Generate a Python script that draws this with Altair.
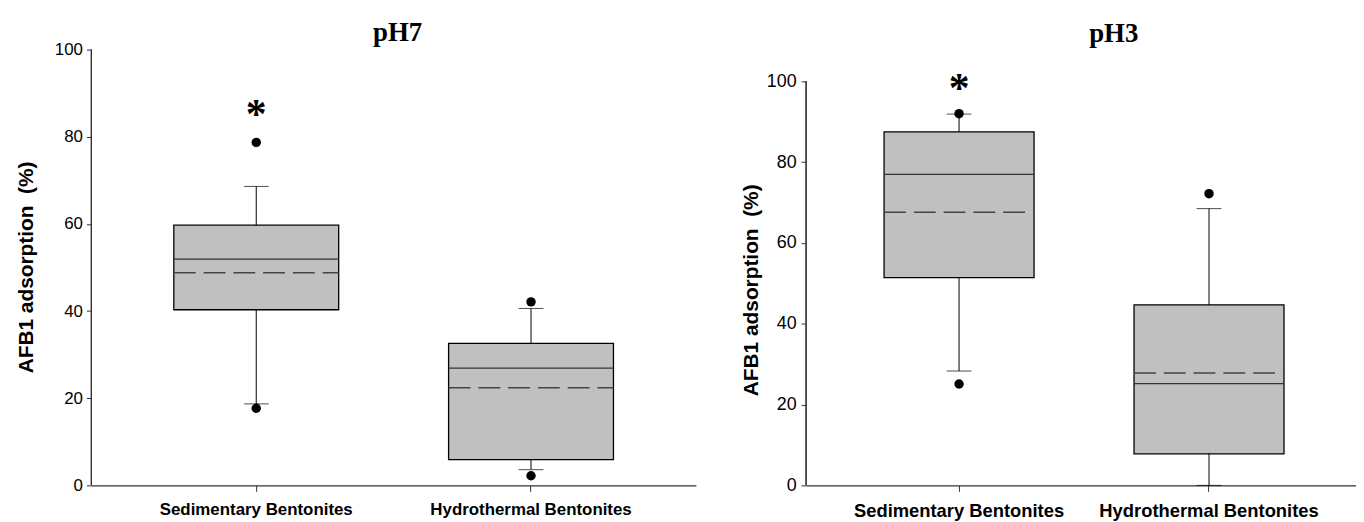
import altair as alt
import pandas as pd

categories = ["Sedimentary Bentonites", "Hydrothermal Bentonites"]

# pH7 panel
ph7_q1 = [40.3, 5.9]
ph7_median = [51.9, 26.9]
ph7_q3 = [59.7, 32.6]
ph7_mean = [48.8, 22.4]
ph7_wlow = [18.7, 3.6]
ph7_whigh = [68.6, 40.6]
ph7_out_cat = ["Sedimentary Bentonites", "Sedimentary Bentonites",
               "Hydrothermal Bentonites", "Hydrothermal Bentonites"]
ph7_out_val = [78.7, 17.7, 42.1, 2.2]
ph7_star_cat = ["Sedimentary Bentonites"]
ph7_star_val = [86.0]

# pH3 panel
ph3_q1 = [51.4, 7.8]
ph3_median = [77.0, 25.2]
ph3_q3 = [87.5, 44.7]
ph3_mean = [67.6, 27.8]
ph3_wlow = [28.3, 0.0]
ph3_whigh = [91.9, 68.5]
ph3_out_cat = ["Sedimentary Bentonites", "Sedimentary Bentonites",
               "Hydrothermal Bentonites"]
ph3_out_val = [92.0, 25.1, 72.2]
ph3_star_cat = ["Sedimentary Bentonites"]
ph3_star_val = [99.3]

y_ticks = [0, 20, 40, 60, 80, 100]

SANS = "Liberation Sans"
SERIF = "Liberation Serif"
Y_TITLE = "AFB1 adsorption\u00a0 (%)"


def panel(title, q1, med, q3, mean, wlow, whigh, out_cat, out_val, star_cat, star_val,
          width, height, ymax, title_offset, title_dx, label_size, xlabel_size, title_size,
          align, ytitle_padding, ytitle_y, ylabel_padding):
    summ = pd.DataFrame({"cat": categories, "q1": q1, "median": med, "q3": q3,
                         "mean": mean, "wlow": wlow, "whigh": whigh})
    outs = pd.DataFrame({"cat": out_cat, "val": out_val})
    stars = pd.DataFrame({"cat": star_cat, "val": star_val, "t": ["*"] * len(star_cat)})

    xscale = alt.Scale(domain=categories, paddingInner=0.4, paddingOuter=0.3, align=align)
    x = alt.X("cat:N", scale=xscale, sort=categories,
              axis=alt.Axis(title=None, labelAngle=0, labelFont=SANS, labelFontWeight="bold",
                            labelFontSize=xlabel_size, labelColor="black", tickSize=6,
                            labelPadding=10, labelLimit=500, domainColor="#333",
                            tickColor="#333", domainWidth=1.2))
    yscale = alt.Scale(domain=[0, ymax], nice=False, zero=True)
    y_axis = alt.Axis(title=Y_TITLE, values=y_ticks, grid=False, domain=False,
                      tickSize=5, labelPadding=ylabel_padding, labelFont=SANS,
                      labelFontSize=label_size, labelColor="black", titleFont=SANS,
                      titleFontSize=21, titleFontWeight="bold", titleColor="black",
                      titlePadding=ytitle_padding, titleY=ytitle_y, tickColor="#333")

    base = alt.Chart(summ)
    yline = base.mark_rule(color="#333", strokeWidth=1.2).encode(
        x=alt.value(0), y=alt.datum(min(y_ticks), scale=yscale), y2=alt.datum(max(y_ticks)))
    whisk = base.mark_rule(color="black", strokeWidth=1).encode(
        x=x, y=alt.Y("wlow:Q", scale=yscale, axis=y_axis), y2="whigh:Q")
    box = base.mark_bar(fill="#c0c0c0", stroke="black", strokeWidth=1.3).encode(
        x=x, y=alt.Y("q1:Q", scale=yscale), y2="q3:Q")
    cap_hi = base.mark_tick(color="black", size=25, thickness=1).encode(
        x=x, y=alt.Y("whigh:Q", scale=yscale))
    cap_lo = base.mark_tick(color="black", size=25, thickness=1).encode(
        x=x, y=alt.Y("wlow:Q", scale=yscale))
    median = base.mark_rule(color="#333", strokeWidth=1.3).encode(
        x=alt.X("cat:N", scale=xscale, sort=categories, bandPosition=0),
        x2=alt.X2("cat:N", bandPosition=1),
        y=alt.Y("median:Q", scale=yscale))
    meanl = base.mark_rule(color="#444", strokeWidth=1.4, strokeDash=[22, 8]).encode(
        x=alt.X("cat:N", scale=xscale, sort=categories, bandPosition=0),
        x2=alt.X2("cat:N", bandPosition=1),
        y=alt.Y("mean:Q", scale=yscale))
    pts = alt.Chart(outs).mark_circle(color="black", opacity=1, size=90).encode(
        x=x, y=alt.Y("val:Q", scale=yscale))
    st = alt.Chart(stars).mark_text(font=SERIF, fontSize=42, fontWeight="bold",
                                    color="black", baseline="alphabetic", dy=18).encode(
        x=x, y=alt.Y("val:Q", scale=yscale), text="t:N")

    return alt.layer(whisk, yline, box, cap_hi, cap_lo, median, meanl, pts, st).properties(
        width=width, height=height,
        title=alt.TitleParams(title, font=SERIF, fontSize=title_size, fontWeight="bold",
                              color="black", anchor="middle", offset=title_offset,
                              dx=title_dx))


left = panel("pH7", ph7_q1, ph7_median, ph7_q3, ph7_mean, ph7_wlow, ph7_whigh,
             ph7_out_cat, ph7_out_val, ph7_star_cat, ph7_star_val,
             width=609, height=439, ymax=100, title_offset=-6, title_dx=4, label_size=17,
             xlabel_size=17, title_size=27, align=0.5, ytitle_padding=18,
             ytitle_y=219, ylabel_padding=4)
right = panel("pH3", ph3_q1, ph3_median, ph3_q3, ph3_mean, ph3_wlow, ph3_whigh,
              ph3_out_cat, ph3_out_val, ph3_star_cat, ph3_star_val,
              width=554, height=439, ymax=107.86, title_offset=2, title_dx=33, label_size=18,
              xlabel_size=18.5, title_size=27, align=0.52, ytitle_padding=5,
              ytitle_y=242, ylabel_padding=5)

chart = alt.hconcat(left, right, spacing=44).properties(
    padding={"left": 7, "top": 9, "right": 0, "bottom": 0},
    background="white"
).configure_view(strokeWidth=0, stroke="transparent")

chart.save("out.html", embed_options={"renderer": "svg", "actions": False})
